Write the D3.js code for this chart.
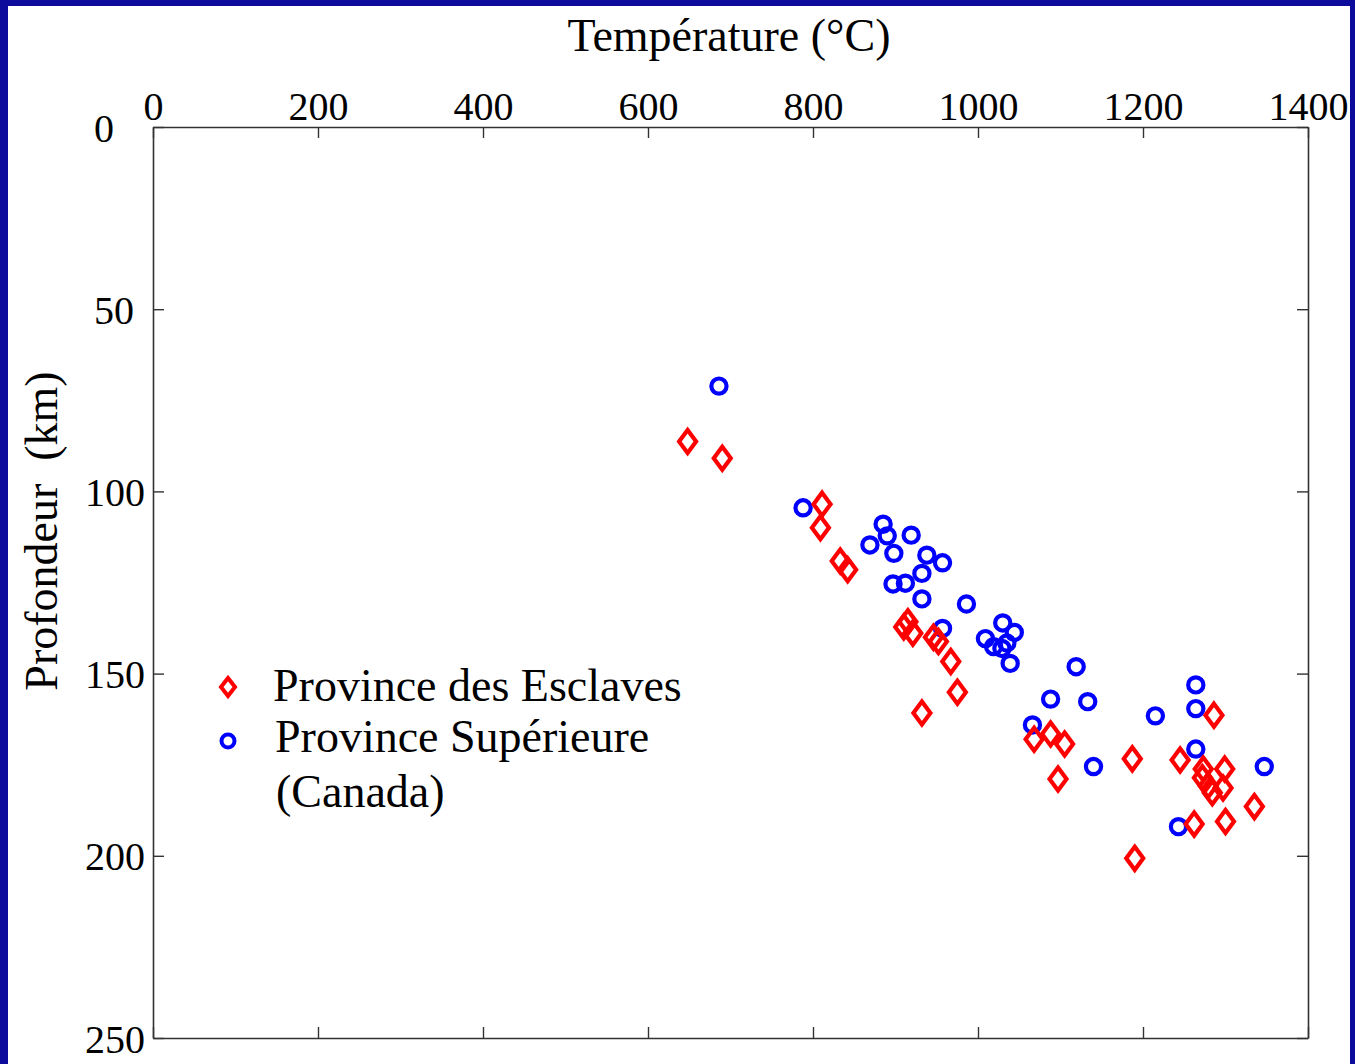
<!DOCTYPE html>
<html>
<head>
<meta charset="utf-8">
<script src="https://cdn.jsdelivr.net/npm/d3@7"></script>
<style>
  html, body { margin: 0; padding: 0; background: #fff; }
  text { font-family: "Liberation Serif", "Times New Roman", serif; fill: #000; }
</style>
</head>
<body>
<main></main>
<script>
const width = 1355, height = 1064;

// Province des Esclaves : temperature (°C), depth (km)
const esclavesT = [648, 690, 811, 809, 833, 842, 915, 910, 921, 946, 952, 967, 975, 932,
  1068, 1088, 1105, 1097, 1187, 1190, 1245, 1286, 1262, 1273, 1272, 1279, 1284, 1299,
  1297, 1300, 1335];
const esclavesD = [86.3, 90.9, 103.5, 110.0, 119.1, 121.5, 135.8, 137.2, 138.9, 140.0, 141.2,
  146.7, 155.1, 160.8, 168.0, 166.6, 169.3, 178.9, 173.4, 200.7, 173.7, 161.4, 191.3,
  176.2, 178.6, 180.8, 182.7, 176.2, 181.4, 190.6, 186.5];

// Province Supérieure (Canada)
const superieureT = [686, 788, 885, 890, 869, 919, 898, 938, 957, 932, 897, 912, 932, 986,
  957, 1030, 1044, 1009, 1019, 1029, 1035, 1039, 1119, 1088, 1133, 1066, 1140, 1215,
  1264, 1264, 1264, 1347, 1243];
const superieureD = [71.1, 104.5, 109.0, 112.2, 114.7, 112.0, 117.0, 117.5, 119.6, 122.5,
  125.4, 125.2, 129.5, 130.9, 137.6, 136.1, 138.7, 140.4, 142.6, 143.1, 141.6, 147.2,
  148.1, 157.0, 157.7, 164.1, 175.5, 161.6, 153.1, 159.6, 170.7, 175.5, 192.0];

const xTicks = [0, 200, 400, 600, 800, 1000, 1200, 1400];
const yTicks = [0, 50, 100, 150, 200, 250];
const legendLabels = ["Province des Esclaves", "Province Supérieure", "(Canada)"];

const margin = {left: 153, top: 127, right: 1308, bottom: 1038};

const svg = d3.select("main").append("svg")
    .attr("width", width)
    .attr("height", height)
    .style("display", "block");

// blue slide frame
svg.append("rect").attr("width", width).attr("height", height).attr("fill", "#0c0b9c");
svg.append("rect").attr("x", 8).attr("y", 6)
    .attr("width", 1350 - 8).attr("height", height - 6).attr("fill", "#fff");

const x = d3.scaleLinear().domain([0, 1400]).range([margin.left, margin.right]);
const y = d3.scaleLinear().domain([0, 250]).range([margin.top, margin.bottom]);

const tickLen = 11;
const fmt = d3.format("d");

// top axis (labels), ticks pointing inward
const topAxis = svg.append("g")
    .attr("transform", "translate(0," + margin.top + ")")
    .call(d3.axisTop(x).tickValues(xTicks).tickFormat(fmt).tickSizeInner(-tickLen).tickSizeOuter(0));
topAxis.selectAll("text").attr("font-size", 40).attr("dy", 0).attr("y", -7);

svg.append("g")
    .attr("transform", "translate(0," + margin.bottom + ")")
    .call(d3.axisBottom(x).tickValues(xTicks).tickSizeInner(-tickLen).tickSizeOuter(0).tickFormat(""));

const leftAxis = svg.append("g")
    .attr("transform", "translate(" + margin.left + ",0)")
    .call(d3.axisLeft(y).tickValues(yTicks).tickFormat(fmt).tickSizeInner(-tickLen).tickSizeOuter(0));
// the original slide has the short labels pulled a bit to the left
leftAxis.selectAll("text").attr("font-size", 40).attr("dy", "0.35em")
    .attr("x", d => d === 0 ? -39 : d === 50 ? -19 : -8);

svg.append("g")
    .attr("transform", "translate(" + margin.right + ",0)")
    .call(d3.axisRight(y).tickValues(yTicks).tickSizeInner(-tickLen).tickSizeOuter(0).tickFormat(""));

svg.selectAll(".domain").attr("stroke", "#333").attr("stroke-width", 1.6);
svg.selectAll(".tick line").attr("stroke", "#333").attr("stroke-width", 1.4);
svg.selectAll(".tick text").style("font-family", "'Liberation Serif', serif").attr("fill", "#000");

// axis titles
svg.append("text")
    .attr("x", 729).attr("y", 51)
    .attr("text-anchor", "middle")
    .attr("font-size", 46)
    .text("Température (°C)");

svg.append("text")
    .attr("transform", "translate(57,531) rotate(-90)")
    .attr("text-anchor", "middle")
    .attr("font-size", 46)
    .style("white-space", "pre")
    .text("Profondeur  (km)");

// markers
const diamond = (hw, hh) => "M0," + (-hh) + "L" + hw + ",0L0," + hh + "L" + (-hw) + ",0Z";

const sup = superieureT.map((t, i) => ({t: t, d: superieureD[i]}));
const esc = esclavesT.map((t, i) => ({t: t, d: esclavesD[i]}));

svg.append("g").selectAll("circle")
    .data(sup)
    .enter().append("circle")
    .attr("cx", d => x(d.t))
    .attr("cy", d => y(d.d))
    .attr("r", 7.6)
    .attr("fill", "none")
    .attr("stroke", "#0000ff")
    .attr("stroke-width", 4.2);

svg.append("g").selectAll("path")
    .data(esc)
    .enter().append("path")
    .attr("transform", d => "translate(" + x(d.t) + "," + y(d.d) + ")")
    .attr("d", diamond(8.5, 11.5))
    .attr("fill", "none")
    .attr("stroke", "#ff0000")
    .attr("stroke-width", 4.2);

// legend
const legend = svg.append("g");
legend.append("path")
    .attr("transform", "translate(228,687)")
    .attr("d", diamond(7, 9))
    .attr("fill", "none")
    .attr("stroke", "#ff0000")
    .attr("stroke-width", 4);
legend.append("circle")
    .attr("cx", 228).attr("cy", 741).attr("r", 6.5)
    .attr("fill", "none")
    .attr("stroke", "#0000ff")
    .attr("stroke-width", 4);

legend.selectAll("text")
    .data(legendLabels)
    .enter().append("text")
    .attr("x", (d, i) => [273, 275, 276][i])
    .attr("y", (d, i) => [701, 752, 807][i])
    .attr("font-size", 46)
    .text(d => d);
</script>
</body>
</html>
